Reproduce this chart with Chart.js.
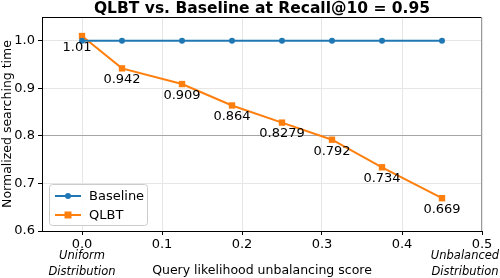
<!DOCTYPE html>
<html>
<head>
<meta charset="utf-8">
<script src="https://cdn.jsdelivr.net/npm/chart.js@4"></script>
<style>
  html, body { margin: 0; padding: 0; background: #fff; }
  #wrap { width: 500px; height: 278px; }
</style>
</head>
<body>
<div id="wrap"><canvas id="chart"></canvas></div>
<script>
const xValues = [0, 0.05, 0.125, 0.1875, 0.25, 0.3125, 0.375, 0.45];
const baselineValues = [1, 1, 1, 1, 1, 1, 1, 1];
const qlbtValues = [1.01, 0.942, 0.909, 0.864, 0.8279, 0.792, 0.734, 0.669];
const qlbtLabels = ['1.01', '0.942', '0.909', '0.864', '0.8279', '0.792', '0.734', '0.669'];
const xTicks = [0, 0.1, 0.2, 0.3, 0.4, 0.5];
const yTicks = [0.6, 0.7, 0.8, 0.9, 1.0];

const FONT = 'DejaVu Sans';
const blue = '#1f77b4';
const orange = '#ff7f0e';

function pts(ys) {
    return xValues.map((x, i) => ({ x: x, y: ys[i] }));
}

// labels, title, extra axis notes, frame and legend
const extras = {
    id: 'extras',
    afterDatasetsDraw(chart) {
        const ctx = chart.ctx;
        const xs = chart.scales.x, ys = chart.scales.y;
        const a = chart.chartArea;
        ctx.save();

        // value labels under the orange points
        ctx.font = '13px "' + FONT + '"';
        ctx.fillStyle = '#000';
        ctx.textAlign = 'center';
        ctx.textBaseline = 'top';
        qlbtValues.forEach((v, i) => {
            let px = xs.getPixelForValue(xValues[i]);
            if (i === 0) px -= 5;
            ctx.fillText(qlbtLabels[i], px, ys.getPixelForValue(v) + 5);
        });

        // frame: top black, right gray
        ctx.lineWidth = 1;
        ctx.strokeStyle = '#000';
        ctx.beginPath();
        ctx.moveTo(a.left, a.top + 0.5);
        ctx.lineTo(a.right, a.top + 0.5);
        ctx.stroke();
        ctx.strokeStyle = '#999';
        ctx.beginPath();
        ctx.moveTo(a.right - 0.5, a.top);
        ctx.lineTo(a.right - 0.5, a.bottom);
        ctx.stroke();

        // title
        ctx.font = 'bold 15.5px "' + FONT + '"';
        ctx.textBaseline = 'alphabetic';
        ctx.fillText('QLBT vs. Baseline at Recall@10 = 0.95', 262, 13);

        // italic notes under the x axis
        ctx.font = 'italic 11.5px "' + FONT + '"';
        const ux = xs.getPixelForValue(0);
        ctx.fillText('Uniform', ux, 259);
        ctx.fillText('Distribution', ux, 275);
        const bx = 465;
        ctx.fillText('Unbalanced', bx, 259);
        ctx.fillText('Distribution', bx, 275);

        // legend box
        const lx = 49, ly = 184, lw = 98, lh = 41;
        ctx.fillStyle = 'rgba(255,255,255,0.85)';
        ctx.strokeStyle = '#ccc';
        ctx.beginPath();
        ctx.roundRect(lx + 0.5, ly + 0.5, lw, lh, 3);
        ctx.fill();
        ctx.stroke();
        const rows = [
            { name: 'Baseline', color: blue, shape: 'circle', y: ly + 12 },
            { name: 'QLBT', color: orange, shape: 'square', y: ly + 31 }
        ];
        ctx.font = '13px "' + FONT + '"';
        ctx.textAlign = 'left';
        ctx.textBaseline = 'middle';
        rows.forEach(r => {
            ctx.strokeStyle = r.color;
            ctx.fillStyle = r.color;
            ctx.lineWidth = 2;
            ctx.beginPath();
            ctx.moveTo(lx + 6, r.y);
            ctx.lineTo(lx + 32, r.y);
            ctx.stroke();
            ctx.beginPath();
            if (r.shape === 'circle') {
                ctx.arc(lx + 19, r.y, 3, 0, Math.PI * 2);
            } else {
                ctx.rect(lx + 15.5, r.y - 3.5, 7, 7);
            }
            ctx.fill();
            ctx.fillStyle = '#000';
            ctx.fillText(r.name, lx + 40, r.y + 1);
        });
        ctx.restore();
    }
};

new Chart(document.getElementById('chart'), {
    type: 'line',
    data: {
        datasets: [
            {
                label: 'Baseline',
                data: pts(baselineValues),
                borderColor: blue,
                backgroundColor: blue,
                borderWidth: 2,
                pointStyle: 'circle',
                pointRadius: 3,
                pointBorderWidth: 0,
                tension: 0
            },
            {
                label: 'QLBT',
                data: pts(qlbtValues),
                borderColor: orange,
                backgroundColor: orange,
                borderWidth: 2,
                pointStyle: 'rect',
                pointRadius: 4.5,
                pointBorderWidth: 0,
                tension: 0
            }
        ]
    },
    options: {
        responsive: true,
        maintainAspectRatio: false,
        animation: false,
        layout: { padding: { top: 17, right: 18, left: 0, bottom: 0 } },
        plugins: {
            legend: { display: false },
            title: { display: false },
            tooltip: { enabled: false }
        },
        scales: {
            x: {
                type: 'linear',
                min: -0.05,
                max: 0.5,
                afterBuildTicks: s => { s.ticks = xTicks.map(v => ({ value: v })); },
                afterFit: s => { s.height = 47; },
                ticks: {
                    font: { family: FONT, size: 13 },
                    color: '#000',
                    padding: 2,
                    maxRotation: 0,
                    callback: v => v.toFixed(1)
                },
                grid: { color: '#e6e6e6', tickColor: '#000', tickLength: 4 },
                border: { color: '#000', width: 1 },
                title: {
                    display: true,
                    text: 'Query likelihood unbalancing score',
                    font: { family: FONT, size: 12.5 },
                    color: '#000',
                    padding: { top: 0, bottom: 0 }
                }
            },
            y: {
                min: 0.6,
                max: 1.05,
                afterBuildTicks: s => { s.ticks = yTicks.map(v => ({ value: v })); },
                afterFit: s => { s.width = 42; },
                ticks: {
                    font: { family: FONT, size: 13 },
                    color: '#000',
                    padding: 3,
                    callback: v => v.toFixed(1)
                },
                grid: {
                    color: c => (c.tick && Math.abs(c.tick.value - 0.8) < 1e-6) ? '#a6a6a6' : '#e6e6e6',
                    tickColor: '#000',
                    tickLength: 4
                },
                border: { color: '#000', width: 1 },
                title: {
                    display: true,
                    text: 'Normalized searching time',
                    font: { family: FONT, size: 12.5 },
                    color: '#000',
                    padding: { top: 0, bottom: 0 }
                }
            }
        }
    },
    plugins: [extras]
});
</script>
</body>
</html>
